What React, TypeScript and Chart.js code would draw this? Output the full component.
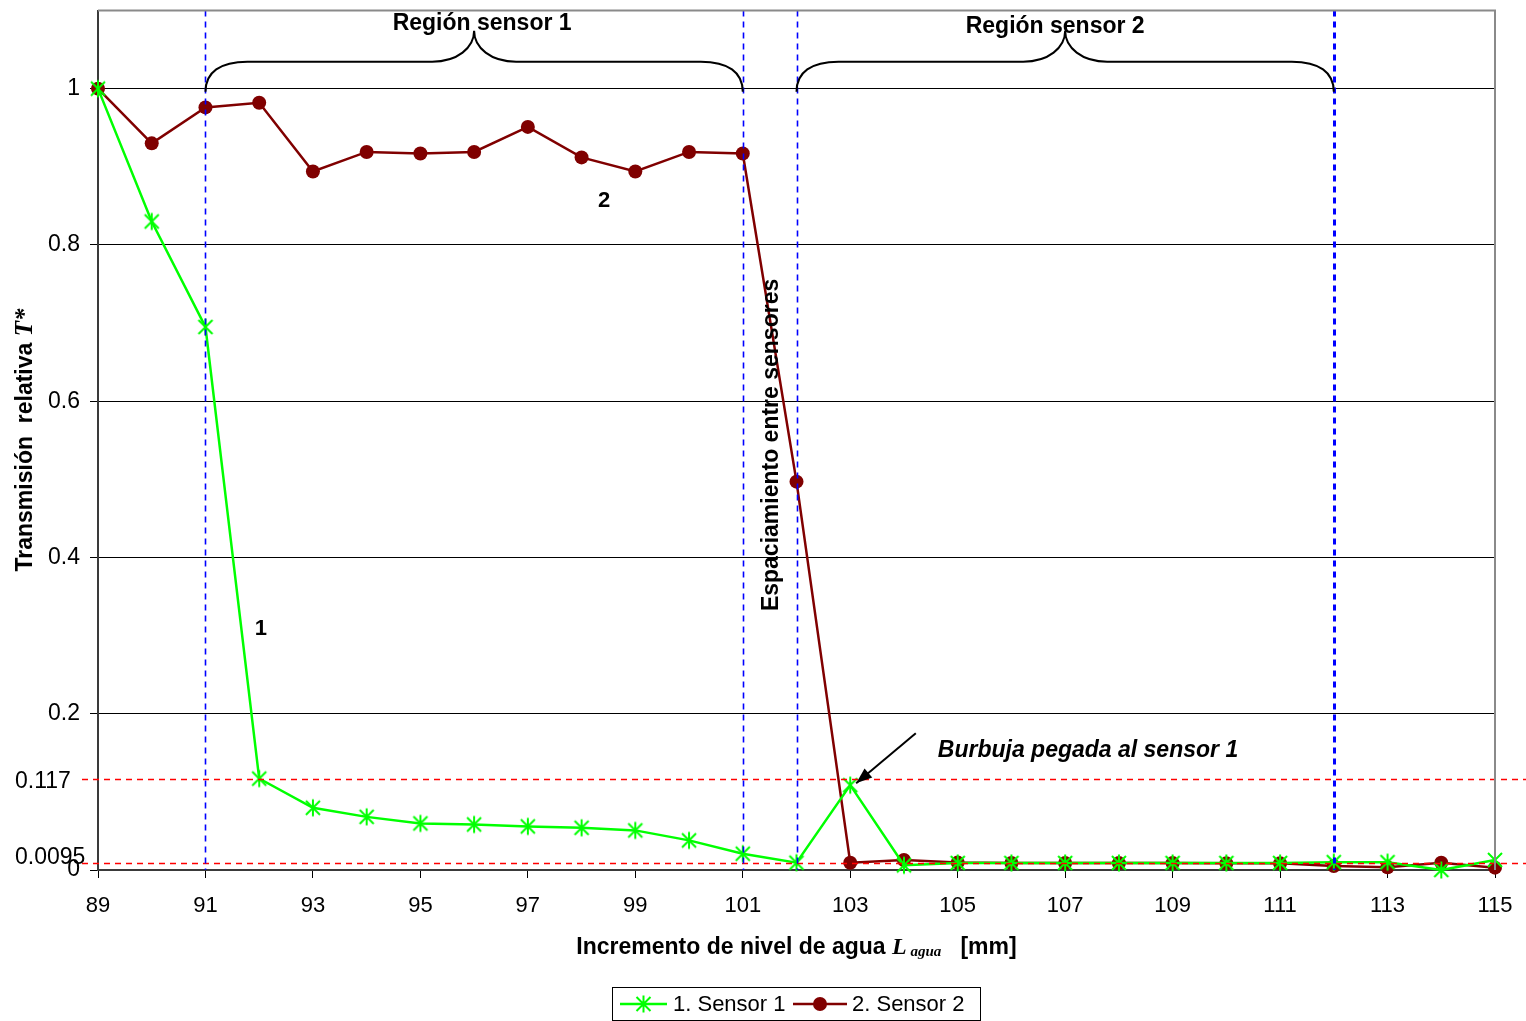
import React, { useEffect, useRef } from 'react';
import { Chart, registerables } from 'chart.js';

Chart.register(...registerables);

const levels = [89, 90, 91, 92, 93, 94, 95, 96, 97, 98, 99, 100, 101, 102, 103, 104, 105, 106, 107, 108, 109, 110, 111, 112, 113, 114, 115];
const sensor1 = [1.0, 0.83, 0.695, 0.117, 0.0796, 0.068, 0.0596, 0.0583, 0.0558, 0.054, 0.0507, 0.0379, 0.0208, 0.0093, 0.1086, 0.006, 0.009, 0.009, 0.009, 0.009, 0.009, 0.009, 0.009, 0.01, 0.01, 0.0, 0.0128];
const sensor2 = [1.0, 0.93, 0.976, 0.982, 0.894, 0.919, 0.917, 0.919, 0.951, 0.912, 0.894, 0.919, 0.917, 0.497, 0.0093, 0.0128, 0.0095, 0.009, 0.009, 0.0088, 0.0088, 0.0085, 0.0085, 0.005, 0.0035, 0.0093, 0.003];
const xTicks = [89, 91, 93, 95, 97, 99, 101, 103, 105, 107, 109, 111, 113, 115];
const yTicks = [0, 0.2, 0.4, 0.6, 0.8, 1];
const thresholds = [0.117, 0.0095];
const thresholdLabels = ['0.117', '0.0095'];
const regionLines = [91, 101, 102, 112];
const regions = [
  { label: 'Región sensor 1', from: 91, to: 101 },
  { label: 'Región sensor 2', from: 102, to: 112 },
];
const seriesNames = ['1. Sensor 1', '2. Sensor 2'];

const SANS = '"Liberation Sans", Arial, sans-serif';
const SERIF = '"Liberation Serif", "Times New Roman", serif';
const GREEN = '#00FF00';
const RED = '#800000';

function drawAsterisk(ctx: CanvasRenderingContext2D, cx: number, cy: number, r: number) {
  ctx.save();
  ctx.strokeStyle = GREEN;
  ctx.lineWidth = 2;
  ctx.setLineDash([]);
  ctx.beginPath();
  ctx.moveTo(cx - r, cy - r); ctx.lineTo(cx + r, cy + r);
  ctx.moveTo(cx + r, cy - r); ctx.lineTo(cx - r, cy + r);
  ctx.moveTo(cx, cy - r * 1.2); ctx.lineTo(cx, cy + r * 1.2);
  ctx.stroke();
  ctx.restore();
}

function drawBrace(ctx: CanvasRenderingContext2D, x1: number, x2: number, yBase: number, yFlat: number, yTip: number) {
  const xm = (x1 + x2) / 2;
  const r = 42;
  const h = yBase - yFlat;
  const t = yFlat - yTip;
  ctx.beginPath();
  ctx.moveTo(x1, yBase);
  ctx.bezierCurveTo(x1, yFlat + h * 0.35, x1 + r * 0.35, yFlat, x1 + r, yFlat);
  ctx.lineTo(xm - r, yFlat);
  ctx.bezierCurveTo(xm - r * 0.4, yFlat, xm, yFlat - t * 0.45, xm, yTip);
  ctx.bezierCurveTo(xm, yFlat - t * 0.45, xm + r * 0.4, yFlat, xm + r, yFlat);
  ctx.lineTo(x2 - r, yFlat);
  ctx.bezierCurveTo(x2 - r * 0.35, yFlat, x2, yFlat + h * 0.35, x2, yBase);
  ctx.stroke();
}

function drawParts(ctx: CanvasRenderingContext2D, parts: { t: string; f: string; dy: number }[], cx: number, baseline: number) {
  let total = 0;
  const widths = parts.map((p) => { ctx.font = p.f; const w = ctx.measureText(p.t).width; total += w; return w; });
  let x = cx - total / 2;
  ctx.textAlign = 'left';
  ctx.textBaseline = 'alphabetic';
  parts.forEach((p, i) => { ctx.font = p.f; ctx.fillText(p.t, x, baseline + p.dy); x += widths[i]; });
}

const overlay = {
  id: 'overlay',
  afterDatasetsDraw(chart: any) {
    const { ctx, chartArea: ca, scales } = chart;
    const x = scales.x, y = scales.y;
    ctx.save();
    ctx.setLineDash([6, 5]);
    ctx.strokeStyle = '#FF0000';
    ctx.lineWidth = 1.5;
    thresholds.forEach((v) => {
      const py = Math.round(y.getPixelForValue(v)) + 0.5;
      ctx.beginPath(); ctx.moveTo(82, py); ctx.lineTo(chart.width, py); ctx.stroke();
    });
    ctx.strokeStyle = '#0000FF';
    regionLines.forEach((v) => {
      ctx.lineWidth = v === 112 ? 3 : 1.6;
      const px = Math.round(x.getPixelForValue(v)) + 0.5;
      ctx.beginPath(); ctx.moveTo(px, ca.top); ctx.lineTo(px, ca.bottom); ctx.stroke();
    });
    ctx.restore();
  },
  afterDraw(chart: any) {
    const { ctx, chartArea: ca, scales } = chart;
    const x = scales.x, y = scales.y;
    ctx.save();
    // frame top/right
    ctx.setLineDash([]);
    ctx.strokeStyle = '#8a8a8a';
    ctx.lineWidth = 2;
    ctx.beginPath();
    ctx.moveTo(ca.left, ca.top); ctx.lineTo(ca.right, ca.top); ctx.lineTo(ca.right, ca.bottom);
    ctx.stroke();

    // threshold labels (left aligned)
    ctx.fillStyle = '#000';
    ctx.font = '23px ' + SANS;
    ctx.textAlign = 'left';
    ctx.textBaseline = 'middle';
    thresholds.forEach((v, i) => {
      const py = y.getPixelForValue(v) + (i === 0 ? 3 : -5);
      ctx.fillText(thresholdLabels[i], 15, py);
    });

    // braces + region labels
    ctx.strokeStyle = '#000';
    ctx.lineWidth = 2;
    regions.forEach((rg, i) => {
      const x1 = x.getPixelForValue(rg.from);
      const x2 = x.getPixelForValue(rg.to);
      drawBrace(ctx, x1, x2, y.getPixelForValue(0.996), y.getPixelForValue(1.0345), y.getPixelForValue(1.074));
      ctx.font = 'bold 23px ' + SANS;
      ctx.textAlign = 'center';
      ctx.textBaseline = 'middle';
      ctx.fillText(rg.label, (x1 + x2) / 2 + (i === 0 ? 8 : -10), y.getPixelForValue(i === 0 ? 1.083 : 1.079));
    });

    // curve labels
    ctx.font = 'bold 22px ' + SANS;
    ctx.textAlign = 'center';
    ctx.textBaseline = 'middle';
    ctx.fillText('1', x.getPixelForValue(92.03), y.getPixelForValue(0.309));
    ctx.fillText('2', x.getPixelForValue(98.42), y.getPixelForValue(0.856));

    // spacing label (rotated)
    ctx.save();
    ctx.font = 'bold 23px ' + SANS;
    ctx.translate(x.getPixelForValue(101.53), y.getPixelForValue(0.544));
    ctx.rotate(-Math.PI / 2);
    ctx.fillText('Espaciamiento entre sensores', 0, 0);
    ctx.restore();

    // bubble annotation
    ctx.font = 'italic bold 23px ' + SANS;
    ctx.textAlign = 'left';
    ctx.fillText('Burbuja pegada al sensor 1', x.getPixelForValue(104.63), y.getPixelForValue(0.153));

    // arrow
    const ax1 = x.getPixelForValue(104.22), ay1 = y.getPixelForValue(0.175);
    const ax2 = x.getPixelForValue(103.11), ay2 = y.getPixelForValue(0.111);
    ctx.lineWidth = 2;
    ctx.beginPath(); ctx.moveTo(ax1, ay1); ctx.lineTo(ax2, ay2); ctx.stroke();
    const ang = Math.atan2(ay2 - ay1, ax2 - ax1);
    const hl = 16, hw = 6;
    ctx.beginPath();
    ctx.moveTo(ax2, ay2);
    ctx.lineTo(ax2 - hl * Math.cos(ang) + hw * Math.sin(ang), ay2 - hl * Math.sin(ang) - hw * Math.cos(ang));
    ctx.lineTo(ax2 - hl * Math.cos(ang) - hw * Math.sin(ang), ay2 - hl * Math.sin(ang) + hw * Math.cos(ang));
    ctx.closePath();
    ctx.fill();

    // x title
    drawParts(ctx, [
      { t: 'Incremento de nivel de agua ', f: 'bold 23px ' + SANS, dy: 0 },
      { t: 'L', f: 'italic bold 24px ' + SERIF, dy: 0 },
      { t: ' agua', f: 'italic bold 15px ' + SERIF, dy: 2 },
      { t: '   [mm]', f: 'bold 23px ' + SANS, dy: 0 },
    ], (ca.left + ca.right) / 2, 954);

    // y title
    ctx.save();
    ctx.translate(32, 440);
    ctx.rotate(-Math.PI / 2);
    drawParts(ctx, [
      { t: 'Transmisión  relativa ', f: 'bold 23px ' + SANS, dy: 0 },
      { t: 'T*', f: 'italic bold 25px ' + SERIF, dy: 0 },
    ], 0, 0);
    ctx.restore();

    // legend
    const lx = 612, ly = 987, lw = 368, lh = 33;
    ctx.strokeStyle = '#000';
    ctx.lineWidth = 1;
    ctx.strokeRect(lx + 0.5, ly + 0.5, lw, lh);
    const cy = ly + lh / 2 + 0.5;
    ctx.lineWidth = 2.5;
    ctx.strokeStyle = GREEN;
    ctx.beginPath(); ctx.moveTo(620, cy); ctx.lineTo(667, cy); ctx.stroke();
    drawAsterisk(ctx, 643.5, cy, 7);
    ctx.strokeStyle = RED;
    ctx.beginPath(); ctx.moveTo(793, cy); ctx.lineTo(847, cy); ctx.stroke();
    ctx.fillStyle = RED;
    ctx.beginPath(); ctx.arc(820, cy, 7, 0, Math.PI * 2); ctx.fill();
    ctx.fillStyle = '#000';
    ctx.font = '22px ' + SANS;
    ctx.textAlign = 'left';
    ctx.textBaseline = 'middle';
    ctx.fillText(seriesNames[0], 673, cy + 1);
    ctx.fillText(seriesNames[1], 852, cy + 1);
    ctx.restore();
  },
};

export default function App() {
  const ref = useRef<HTMLCanvasElement>(null);
  useEffect(() => {
    document.body.style.margin = '0';
    const star = document.createElement('canvas');
    star.width = 20; star.height = 20;
    const sctx = star.getContext('2d')!;
    drawAsterisk(sctx, 10, 10, 7);

    const chart = new Chart(ref.current!, {
      type: 'line',
      data: {
        datasets: [
          {
            label: seriesNames[0],
            data: levels.map((l, i) => ({ x: l, y: sensor1[i] })),
            borderColor: GREEN,
            backgroundColor: GREEN,
            borderWidth: 2.5,
            pointStyle: star as any,
            pointRadius: 8,
            clip: false as any,
            tension: 0,
          },
          {
            label: seriesNames[1],
            data: levels.map((l, i) => ({ x: l, y: sensor2[i] })),
            borderColor: RED,
            backgroundColor: RED,
            borderWidth: 2.5,
            pointStyle: 'circle',
            pointRadius: 7,
            pointBorderWidth: 0,
            clip: false as any,
            tension: 0,
          },
        ],
      },
      options: {
        animation: false,
        responsive: false,
        layout: { padding: { left: 0, top: 9, right: 31, bottom: 0 } },
        plugins: { legend: { display: false }, tooltip: { enabled: false }, title: { display: false } },
        scales: {
          x: {
            type: 'linear',
            min: 89,
            max: 115,
            afterBuildTicks: (a: any) => { a.ticks = xTicks.map((v) => ({ value: v })); },
            afterFit: (a: any) => { a.height = 151; a.paddingLeft = 0; a.paddingRight = 0; },
            ticks: { font: { family: SANS, size: 22 }, color: '#000', padding: 15, autoSkip: false, maxRotation: 0, callback: (v: any) => String(v) },
            grid: { drawOnChartArea: false, color: '#000', tickLength: 8 },
            border: { color: '#3a3a3a', width: 2 },
          },
          y: {
            type: 'linear',
            min: 0,
            max: 1.1,
            afterBuildTicks: (a: any) => { a.ticks = yTicks.map((v) => ({ value: v })); },
            afterFit: (a: any) => { a.width = 98; a.paddingTop = 0; a.paddingBottom = 0; },
            ticks: { font: { family: SANS, size: 23 }, color: '#000', padding: 10, autoSkip: false, callback: (v: any) => String(v) },
            grid: { color: '#000', lineWidth: 1, tickLength: 8 },
            border: { color: '#3a3a3a', width: 2 },
          },
        },
      } as any,
      plugins: [overlay],
    });
    return () => chart.destroy();
  }, []);
  return (
    <div style={{ position: 'fixed', left: 0, top: 0, width: 1526, height: 1021, background: '#fff', overflow: 'hidden' }}>
      <canvas ref={ref} width={1526} height={1021} style={{ width: 1526, height: 1021, display: 'block' }} />
    </div>
  );
}
